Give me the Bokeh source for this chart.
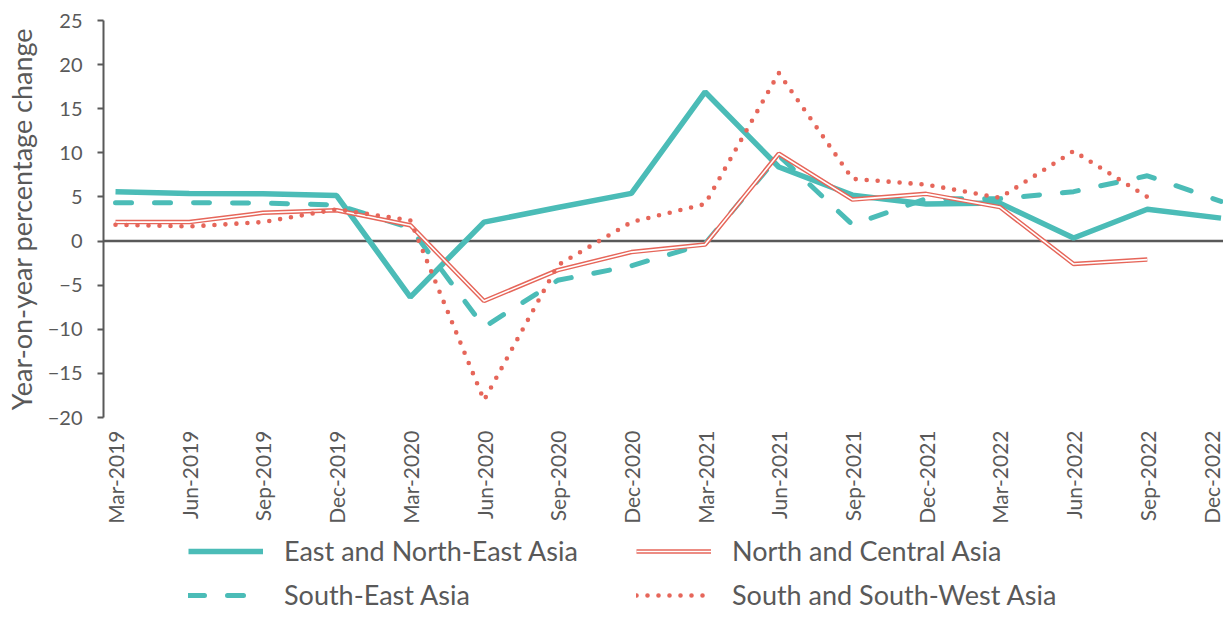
import math
from bokeh.plotting import figure
from bokeh.layouts import column
from bokeh.models import Range1d, FixedTicker, Span, Legend, LegendItem, ColumnDataSource
from bokeh.embed import file_html
from bokeh.resources import INLINE

nan = float("nan")

quarters = ["Mar-2019", "Jun-2019", "Sep-2019", "Dec-2019",
            "Mar-2020", "Jun-2020", "Sep-2020", "Dec-2020",
            "Mar-2021", "Jun-2021", "Sep-2021", "Dec-2021",
            "Mar-2022", "Jun-2022", "Sep-2022", "Dec-2022"]

east_ne_asia = [5.6, 5.4, 5.35, 5.15, -6.35, 2.15, 3.8, 5.4,
                16.9, 8.4, 5.2, 4.2, 4.3, 0.35, 3.6, 2.6]
south_east_asia = [4.35, 4.35, 4.3, 4.1, 1.5, -9.75, -4.45, -2.8,
                   -0.3, 9.7, 1.85, 4.8, 4.8, 5.6, 7.4, 4.5]
north_central_asia = [2.15, 2.15, 3.2, 3.5, 1.8, -6.8, -3.3, -1.25,
                      -0.4, 9.9, 4.7, 5.35, 3.85, -2.6, -2.1, nan]
south_sw_asia = [1.85, 1.65, 2.15, 3.6, 2.35, -18.05, -2.75, 2.15,
                 4.2, 19.05, 7.05, 6.4, 4.9, 10.2, 5.0, nan]

series_names = ["East and North-East Asia", "South-East Asia",
                "North and Central Asia", "South and South-West Asia"]

y_ticks = [-20, -15, -10, -5, 0, 5, 10, 15, 20, 25]

TEAL = "#4BBCB7"
RED = "#E6665A"
GREY = "#595959"
FONT = "Lato"

W = 1223
H_MAIN = 527
H_LEG = 84

x = list(range(len(quarters)))
src = ColumnDataSource(dict(x=x, ene=east_ne_asia, se=south_east_asia,
                            nc=north_central_asia, ssw=south_sw_asia))

p = figure(width=W, height=H_MAIN, output_backend="svg", toolbar_location=None,
           x_range=Range1d(-0.163, 15.034), y_range=Range1d(-20, 25),
           min_border_left=103, min_border_right=0, min_border_top=20,
           min_border_bottom=H_MAIN - 20 - 397)
p.outline_line_color = None
p.xgrid.visible = False
p.ygrid.visible = False

zero = Span(location=0, dimension="width", line_color=GREY, line_width=2.5, level="underlay")
p.add_layout(zero)

STY_ENE = dict(line_color=TEAL, line_width=5.5)
STY_SE = dict(line_color=TEAL, line_width=5, line_dash="16 23", line_cap="round")
STY_NC1 = dict(line_color=RED, line_width=4.5)
STY_NC2 = dict(line_color="white", line_width=1.6)
STY_SSW = dict(line_color=RED, line_width=4.6, line_dash="0 11", line_cap="round")

p.line("x", "ene", source=src, **STY_ENE)
p.line("x", "se", source=src, **STY_SE)
p.line("x", "nc", source=src, **STY_NC1)
p.line("x", "nc", source=src, **STY_NC2)
p.line("x", "ssw", source=src, **STY_SSW)

# y axis
ya = p.yaxis[0]
ya.ticker = FixedTicker(ticks=y_ticks)
ya.axis_line_color = GREY
ya.axis_line_width = 2
ya.major_tick_line_color = GREY
ya.major_tick_line_width = 2
ya.major_tick_out = 6
ya.major_tick_in = 0
ya.minor_tick_out = 0
ya.minor_tick_in = 0
ya.major_label_text_font = FONT
ya.major_label_text_font_size = "20px"
ya.major_label_text_color = GREY
ya.major_label_standoff = 15
ya.axis_label = "Year-on-year percentage change"
ya.axis_label_text_font = FONT
ya.axis_label_text_font_size = "27px"
ya.axis_label_text_font_style = "normal"
ya.axis_label_text_color = GREY
ya.axis_label_standoff = 7

# x axis
xa = p.xaxis[0]
xa.ticker = FixedTicker(ticks=x)
xa.major_label_overrides = {i: q for i, q in zip(x, quarters)}
xa.major_label_orientation = math.pi / 2
xa.axis_line_alpha = 0
xa.major_tick_out = 0
xa.major_tick_in = 0
xa.minor_tick_out = 0
xa.minor_tick_in = 0
xa.major_label_text_font = FONT
xa.major_label_text_font_size = "21px"
xa.major_label_text_color = GREY
xa.major_label_standoff = 13

# legend figure (frames are aligned with the main figure in the column)
pl = figure(width=W, height=H_LEG, output_backend="svg", toolbar_location=None,
            x_range=Range1d(0, 1), y_range=Range1d(0, 1),
            x_axis_type=None, y_axis_type=None,
            min_border_left=103, min_border_right=0, min_border_top=0, min_border_bottom=0)
pl.outline_line_color = None
pl.xgrid.visible = False
pl.ygrid.visible = False

off = dict(x=[-10, -9], y=[-10, -10])
l_ene = pl.line(**off, **STY_ENE)
l_se = pl.line(**off, **STY_SE)
l_nc1 = pl.line(**off, **STY_NC1)
l_nc2 = pl.line(**off, **STY_NC2)
l_ssw = pl.line(**off, **STY_SSW)

def make_legend(items, loc):
    return Legend(items=items, location=loc, orientation="vertical",
                  glyph_width=75, glyph_height=24, label_height=24,
                  label_standoff=21, spacing=11, padding=0, margin=0,
                  border_line_alpha=0, background_fill_alpha=0,
                  label_text_font=FONT, label_text_font_size="27px",
                  label_text_color=GREY)

leg1 = make_legend([LegendItem(label=series_names[0], renderers=[l_ene]),
                    LegendItem(label=series_names[1], renderers=[l_se])], (188 - 103, 0))
leg2 = make_legend([LegendItem(label=series_names[2], renderers=[l_nc1, l_nc2]),
                    LegendItem(label=series_names[3], renderers=[l_ssw])], (636 - 103, 0))
pl.add_layout(leg1, "center")
pl.add_layout(leg2, "center")

layout = column(p, pl, spacing=0)
open("out.html", "w").write(file_html(layout, INLINE))
